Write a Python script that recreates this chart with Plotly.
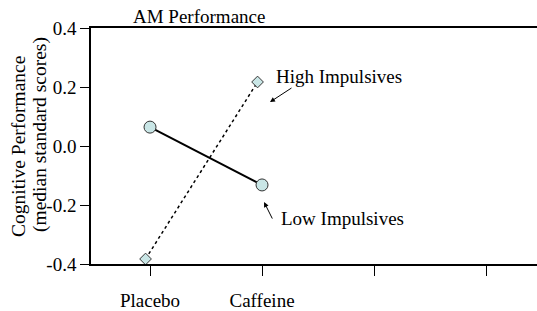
import plotly.graph_objects as go

categories = ["Placebo", "Caffeine"]
tick_labels = ["Placebo", "Caffeine", "", ""]
low_impulsives = [0.064, -0.132]
high_impulsives = [-0.383, 0.217]
y_ticks = [0.4, 0.2, 0.0, -0.2, -0.4]
y_tick_text = ["0.4", "0.2", "0.0", "-0.2", "-0.4"]
y_title_lines = ["Cognitive Performance", "(median standard scores)"]

FONT = "Liberation Serif, Times New Roman, serif"
x_pos = list(range(len(categories)))
high_x = [p - 0.04 for p in x_pos]

fig = go.Figure()
fig.add_trace(go.Scatter(
    x=high_x, y=high_impulsives, mode="lines+markers",
    line=dict(color="black", width=1.5, dash="dot"),
    marker=dict(symbol="diamond", size=9, color="#c9e6e6", line=dict(color="#333333", width=1)),
    showlegend=False))
fig.add_trace(go.Scatter(
    x=x_pos, y=low_impulsives, mode="lines+markers",
    line=dict(color="black", width=2),
    marker=dict(symbol="circle", size=12, color="#c9e6e6", line=dict(color="#333333", width=1)),
    showlegend=False))

PW, PH = 446, 236  # plot area size in px


def px_x(px):
    return (px - 91) / PW


def px_y(py):
    return (264 - py) / PH


fig.update_layout(
    width=537, height=311,
    margin=dict(l=91, r=0, t=28, b=47),
    paper_bgcolor="white", plot_bgcolor="white",
    font=dict(family=FONT, size=19, color="black"),
    showlegend=False,
    xaxis=dict(range=[-0.527, 3.455], tickvals=[0, 1, 2, 3], ticktext=tick_labels,
               showgrid=False, zeroline=False, showline=True, linecolor="black", linewidth=1.5,
               mirror=True, ticks="outside", ticklen=10, tickcolor="black", tickwidth=1,
               ticklabelstandoff=8),
    yaxis=dict(range=[-0.4, 0.4], tickvals=y_ticks, ticktext=y_tick_text,
               showgrid=False, zeroline=False, showline=True, linecolor="black", linewidth=1.5,
               ticks="outside", ticklen=9, tickcolor="black", tickwidth=1),
    annotations=[
        dict(text="AM Performance", xref="paper", yref="paper", x=px_x(131), y=1,
             xanchor="left", yanchor="bottom", showarrow=False, yshift=-1),
        dict(text=y_title_lines[0], xref="paper", yref="paper",
             x=px_x(18), y=px_y(147), textangle=-90, showarrow=False, xanchor="center",
             yanchor="middle", font=dict(size=19.5)),
        dict(text=y_title_lines[1], xref="paper", yref="paper",
             x=px_x(40), y=px_y(135), textangle=-90, showarrow=False, xanchor="center",
             yanchor="middle", font=dict(size=19.5)),
        dict(text="High Impulsives", x=1.107, y=0.237, xanchor="left", yanchor="middle",
             showarrow=False),
        dict(text="", x=1.071, y=0.149, ax=23, ay=-15, showarrow=True, arrowhead=2,
             arrowsize=1, arrowwidth=1, arrowcolor="black"),
        dict(text="Low Impulsives", x=1.152, y=-0.247, xanchor="left", yanchor="middle",
             showarrow=False),
        dict(text="", x=1.018, y=-0.19, ax=9, ay=18, showarrow=True, arrowhead=2,
             arrowsize=1, arrowwidth=1, arrowcolor="black"),
    ],
)

fig.write_html("out.html", config={"displayModeBar": False},
               post_script="document.body.style.margin='0';document.body.style.overflow='hidden';")
